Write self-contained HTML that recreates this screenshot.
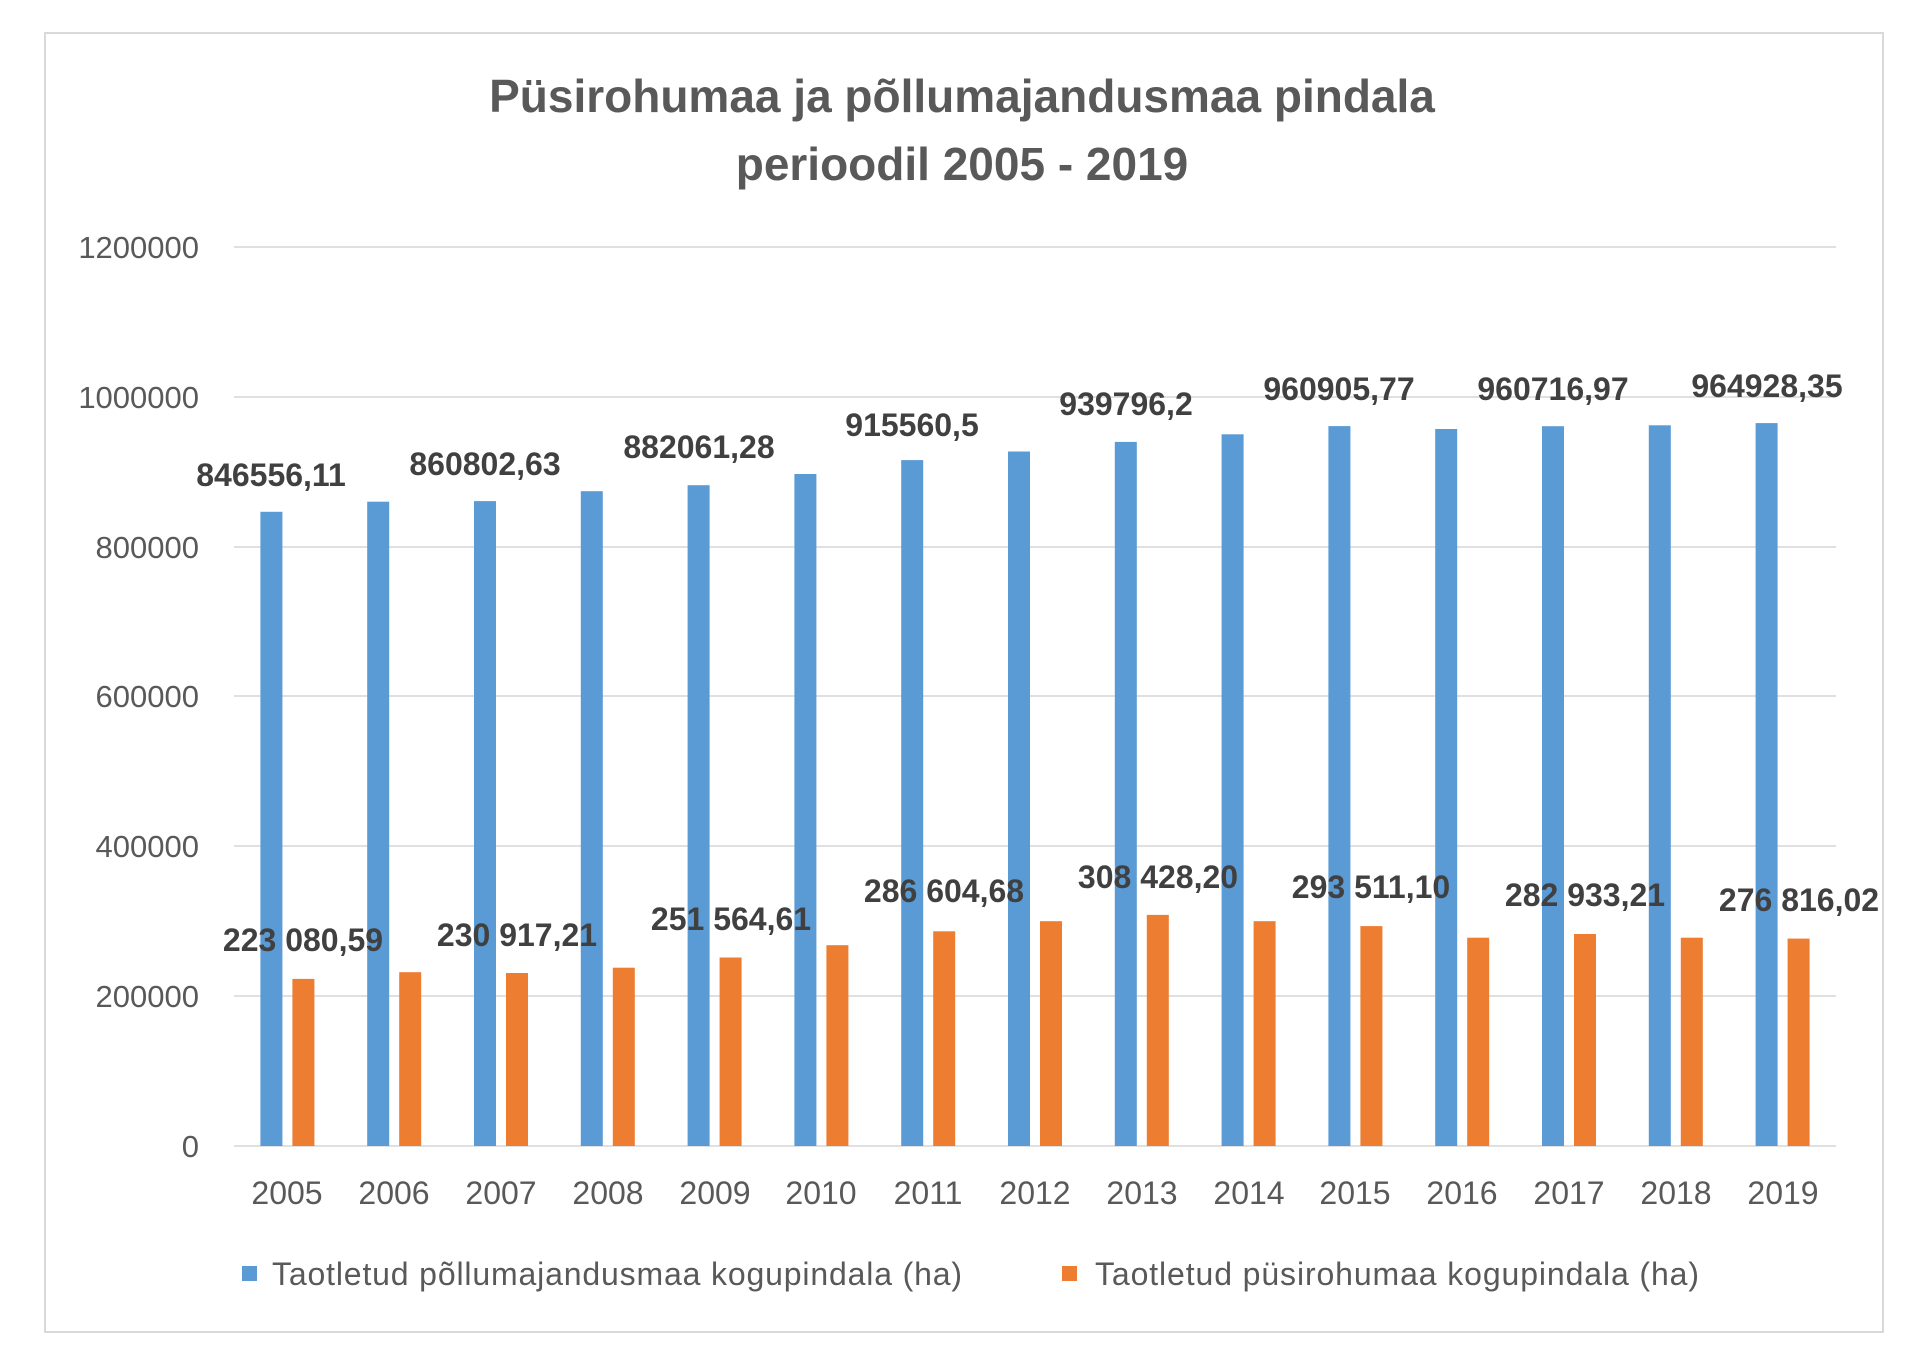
<!DOCTYPE html>
<html><head><meta charset="utf-8"><style>
html,body{margin:0;padding:0;background:#fff;}
svg{display:block;}
text{font-family:"Liberation Sans",sans-serif;}
</style></head><body>
<svg width="1920" height="1353" viewBox="0 0 1920 1353" xmlns="http://www.w3.org/2000/svg">
<rect x="45" y="33" width="1838" height="1299" fill="#fff" stroke="#d9d9d9" stroke-width="2"/>
<text x="962" y="112" text-anchor="middle" font-size="46" font-weight="bold" fill="#595959">Püsirohumaa ja põllumajandusmaa pindala</text>
<text x="962" y="180" text-anchor="middle" font-size="46" font-weight="bold" fill="#595959">perioodil 2005 - 2019</text>
<g stroke="#e0e0e0" stroke-width="2">
<line x1="234" x2="1836" y1="247" y2="247"/>
<line x1="234" x2="1836" y1="397" y2="397"/>
<line x1="234" x2="1836" y1="547" y2="547"/>
<line x1="234" x2="1836" y1="696" y2="696"/>
<line x1="234" x2="1836" y1="846" y2="846"/>
<line x1="234" x2="1836" y1="996" y2="996"/>
<line x1="234" x2="1836" y1="1146" y2="1146"/>
</g>
<g font-size="31" fill="#595959" text-anchor="end">
<text x="199" y="258">1200000</text>
<text x="199" y="408">1000000</text>
<text x="199" y="558">800000</text>
<text x="199" y="707">600000</text>
<text x="199" y="857">400000</text>
<text x="199" y="1007">200000</text>
<text x="199" y="1157">0</text>
</g>
<g fill="#5b9bd5">
<rect x="260.4" y="511.8" width="22" height="634.2"/>
<rect x="367.2" y="501.7" width="22" height="644.3"/>
<rect x="474" y="501.1" width="22" height="644.9"/>
<rect x="580.8" y="491.2" width="22" height="654.8"/>
<rect x="687.6" y="485.2" width="22" height="660.8"/>
<rect x="794.4" y="474" width="22" height="672"/>
<rect x="901.2" y="460.1" width="22" height="685.9"/>
<rect x="1008" y="451.5" width="22" height="694.5"/>
<rect x="1114.8" y="441.9" width="22" height="704.1"/>
<rect x="1221.6" y="434.3" width="22" height="711.7"/>
<rect x="1328.4" y="426.1" width="22" height="719.9"/>
<rect x="1435.2" y="429" width="22" height="717"/>
<rect x="1542" y="426.2" width="22" height="719.8"/>
<rect x="1648.8" y="425.3" width="22" height="720.7"/>
<rect x="1755.6" y="423.1" width="22" height="722.9"/>
</g>
<g fill="#ed7d31">
<rect x="292.4" y="978.9" width="22" height="167.1"/>
<rect x="399.2" y="972.2" width="22" height="173.8"/>
<rect x="506" y="973" width="22" height="173"/>
<rect x="612.8" y="967.7" width="22" height="178.3"/>
<rect x="719.6" y="957.5" width="22" height="188.5"/>
<rect x="826.4" y="945.2" width="22" height="200.8"/>
<rect x="933.2" y="931.3" width="22" height="214.7"/>
<rect x="1040" y="921.2" width="22" height="224.8"/>
<rect x="1146.8" y="914.9" width="22" height="231.1"/>
<rect x="1253.6" y="921.2" width="22" height="224.8"/>
<rect x="1360.4" y="926.1" width="22" height="219.9"/>
<rect x="1467.2" y="937.7" width="22" height="208.3"/>
<rect x="1574" y="934" width="22" height="212"/>
<rect x="1680.8" y="937.7" width="22" height="208.3"/>
<rect x="1787.6" y="938.6" width="22" height="207.4"/>
</g>
<g font-size="32" font-weight="bold" fill="#404040" text-anchor="middle">
<text x="271" y="486">846556,11</text>
<text x="485" y="475">860802,63</text>
<text x="699" y="458">882061,28</text>
<text x="912" y="436">915560,5</text>
<text x="1126" y="415">939796,2</text>
<text x="1339" y="400">960905,77</text>
<text x="1553" y="400">960716,97</text>
<text x="1767" y="397">964928,35</text>
<text x="303" y="951">223 080,59</text>
<text x="517" y="946">230 917,21</text>
<text x="731" y="930">251 564,61</text>
<text x="944" y="902">286 604,68</text>
<text x="1158" y="888">308 428,20</text>
<text x="1371" y="898">293 511,10</text>
<text x="1585" y="906">282 933,21</text>
<text x="1799" y="911">276 816,02</text>
</g>
<g font-size="32" fill="#595959" text-anchor="middle">
<text x="287" y="1204">2005</text>
<text x="394" y="1204">2006</text>
<text x="501" y="1204">2007</text>
<text x="608" y="1204">2008</text>
<text x="715" y="1204">2009</text>
<text x="821" y="1204">2010</text>
<text x="928" y="1204">2011</text>
<text x="1035" y="1204">2012</text>
<text x="1142" y="1204">2013</text>
<text x="1249" y="1204">2014</text>
<text x="1355" y="1204">2015</text>
<text x="1462" y="1204">2016</text>
<text x="1569" y="1204">2017</text>
<text x="1676" y="1204">2018</text>
<text x="1783" y="1204">2019</text>
</g>
<rect x="242" y="1266" width="15" height="15" fill="#5b9bd5"/>
<text x="272" y="1285" font-size="32" fill="#595959" textLength="690">Taotletud põllumajandusmaa kogupindala (ha)</text>
<rect x="1062" y="1266" width="15" height="15" fill="#ed7d31"/>
<text x="1095" y="1285" font-size="32" fill="#595959" textLength="604">Taotletud püsirohumaa kogupindala (ha)</text>
</svg>
</body></html>
